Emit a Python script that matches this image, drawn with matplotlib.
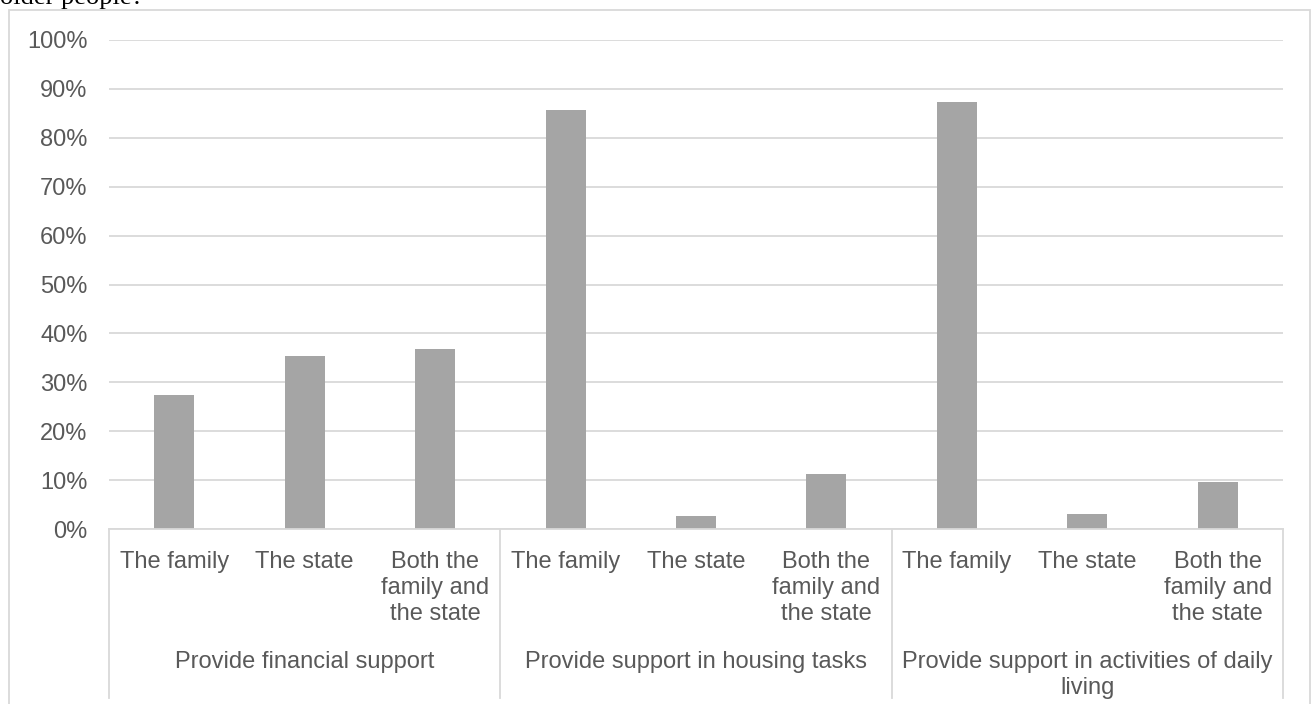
import matplotlib
matplotlib.use("Agg")
import matplotlib.pyplot as plt
from matplotlib.patches import Rectangle

# ---- data ----
groups = ["Provide financial support",
          "Provide support in housing tasks",
          "Provide support in activities of daily\nliving"]
answers = ["The family", "The state", "Both the\nfamily and\nthe state"]
financial = [27.5, 35.4, 36.9]
housing = [85.6, 2.7, 11.3]
daily_living = [87.3, 3.0, 9.7]
yticks = [0, 10, 20, 30, 40, 50, 60, 70, 80, 90, 100]
ytick_labels = [f"{v}%" for v in yticks]

values = financial + housing + daily_living
labels = answers * len(groups)

W, H = 1311, 704
fig = plt.figure(figsize=(W / 100, H / 100), dpi=100)
plt.rcParams['font.family'] = ['Liberation Sans', 'DejaVu Sans']

ax_left, ax_right, ax_top, ax_bottom = 109, 1283, 40, 529
ax = fig.add_axes([ax_left / W, (H - ax_bottom) / H,
                   (ax_right - ax_left) / W, (ax_bottom - ax_top) / H])

txt = "#595959"
grid = "#D9D9D9"
pos = list(range(len(values)))
ax.bar(pos, values, width=0.307, color="#A5A5A5", zorder=3)

ax.set_xlim(-0.5, len(values) - 0.5)
ax.set_ylim(0, 100)
ax.set_yticks(yticks)
ax.set_yticklabels(ytick_labels)
ax.yaxis.grid(True, color=grid, linewidth=1.3, zorder=0)
ax.tick_params(axis='y', length=0, pad=15.5, labelsize=17, labelcolor=txt)

ax.set_xticks(pos)
ax.set_xticklabels(labels, fontsize=17, color=txt, linespacing=1.24)
ax.tick_params(axis='x', length=0, pad=16)

for s in ["left", "right", "top"]:
    ax.spines[s].set_visible(False)
ax.spines["bottom"].set_color(grid)
ax.spines["bottom"].set_linewidth(1.3)
ax.spines["bottom"].set_zorder(4)

axh = ax_bottom - ax_top
tr = ax.get_xaxis_transform()
n = len(answers)
for g in range(len(groups) + 1):
    x = g * n - 0.5
    ax.plot([x, x], [0, -169 / axh], color=grid, lw=1.3, transform=tr, clip_on=False)
for g, name in enumerate(groups):
    cx = g * n + (n - 1) / 2
    ax.text(cx, -122 / axh, name, transform=tr, ha='center', va='top',
            fontsize=17, color=txt, linespacing=1.24, multialignment='center')

# outer chart frame
fig.patches.append(Rectangle((9 / W, -0.02), (1310 - 9) / W, (H - 10) / H + 0.02,
                             transform=fig.transFigure, fill=False,
                             edgecolor=grid, linewidth=1.3))

# cut-off question text at top (cut off in the reference too)
fig.text(0, 1 - 4 / H, "older people?", ha='left', va='baseline',
         fontsize=19, color='black', family=['Liberation Serif', 'DejaVu Serif'])

fig.savefig("out.png", dpi=100)
